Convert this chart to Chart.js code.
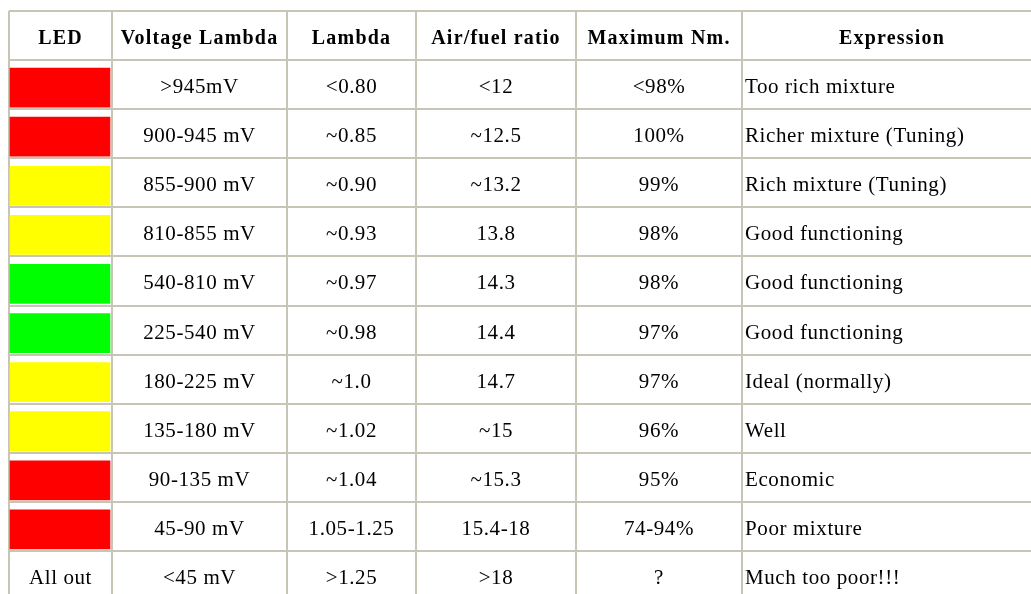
<!DOCTYPE html>
<html><head><meta charset="utf-8">
<script src="https://cdn.jsdelivr.net/npm/chart.js@4"></script>
<style>
html,body{margin:0;padding:0;background:#fff;overflow:hidden;width:1031px;height:594px}
#wrap{position:absolute;left:0;top:0;width:1045px;height:612px}
</style>
</head><body><div id="wrap"><canvas id="c" width="1045" height="612"></canvas></div>
<script>
// ---- data ----
const headers = ['LED', 'Voltage Lambda', 'Lambda', 'Air/fuel ratio', 'Maximum Nm.', 'Expression'];
const ledLabels = ['', '', '', '', '', '', '', '', '', '', 'All out'];
const ledColors = ['#ff0000', '#ff0000', '#ffff00', '#ffff00', '#00ff00', '#00ff00', '#ffff00', '#ffff00', '#ff0000', '#ff0000', null];
const voltage = ['>945mV', '900-945 mV', '855-900 mV', '810-855 mV', '540-810 mV', '225-540 mV', '180-225 mV', '135-180 mV', '90-135 mV', '45-90 mV', '<45 mV'];
const lambda = ['<0.80', '~0.85', '~0.90', '~0.93', '~0.97', '~0.98', '~1.0', '~1.02', '~1.04', '1.05-1.25', '>1.25'];
const airFuel = ['<12', '~12.5', '~13.2', '13.8', '14.3', '14.4', '14.7', '~15', '~15.3', '15.4-18', '>18'];
const maxNm = ['<98%', '100%', '99%', '98%', '98%', '97%', '97%', '96%', '95%', '74-94%', '?'];
const expression = ['Too rich mixture', 'Richer mixture (Tuning)', 'Rich mixture (Tuning)', 'Good functioning', 'Good functioning', 'Good functioning', 'Ideal (normally)', 'Well', 'Economic', 'Poor mixture', 'Much too poor!!!'];

// ---- layout (not data) ----
const colEdges = [0, 103, 278, 407, 567, 733, 1036];
const rowCount = voltage.length + 1;
const columns = [ledLabels, voltage, lambda, airFuel, maxNm, expression];
const gridColor = '#c9c5b5';
const bodyFont = '21px "Liberation Serif", "Times New Roman", serif';
const headFont = 'bold 20px "Liberation Serif", "Times New Roman", serif';

const ledCenter = (colEdges[0] + colEdges[1]) / 2 - 0.5;
const ledData = ledColors.map((c, i) => ({ x: ledCenter, y: c ? [i + 1 + 0.163, i + 2 - 0.04] : null }));

const tableText = {
  id: 'tableText',
  afterDatasetsDraw(chart) {
    const { ctx, scales: { x, y } } = chart;
    ctx.save();
    ctx.fillStyle = '#000';
    ctx.textBaseline = 'middle';
    // header
    ctx.font = headFont;
    ctx.letterSpacing = '1.2px';
    ctx.textAlign = 'center';
    headers.forEach((h, c) => {
      const cx = x.getPixelForValue((colEdges[c] + colEdges[c + 1]) / 2);
      const cy = y.getPixelForValue(0.5) + 3;
      if (c === headers.length - 1) {
        ctx.fillText(h, x.getPixelForValue(colEdges[c]) + 150, cy);
      } else ctx.fillText(h, cx, cy);
    });
    // body
    ctx.font = bodyFont;
    ctx.letterSpacing = '0.6px';
    columns.forEach((col, c) => {
      col.forEach((t, r) => {
        if (!t) return;
        const cy = y.getPixelForValue(r + 1.5) + 3;
        if (c === columns.length - 1) {
          ctx.textAlign = 'left';
          ctx.fillText(t, x.getPixelForValue(colEdges[c]) + 3, cy);
        } else {
          ctx.textAlign = 'center';
          ctx.fillText(t, x.getPixelForValue((colEdges[c] + colEdges[c + 1]) / 2), cy);
        }
      });
    });
    ctx.restore();
  }
};

new Chart(document.getElementById('c'), {
  type: 'bar',
  data: {
    datasets: [{
      data: ledData,
      backgroundColor: ledColors.map(c => c || 'rgba(0,0,0,0)'),
      borderWidth: 0,
      barThickness: 100
    }]
  },
  options: {
    responsive: false,
    animation: false,
    devicePixelRatio: 1,
    layout: { padding: { left: 9, top: 11, right: 0, bottom: 12 } },
    plugins: { legend: { display: false }, tooltip: { enabled: false } },
    scales: {
      x: {
        type: 'linear', min: colEdges[0], max: colEdges[colEdges.length - 1], offset: false,
        afterBuildTicks: s => { s.ticks = colEdges.map(v => ({ value: v })); },
        ticks: { display: false },
        grid: { color: gridColor, lineWidth: 2, drawTicks: false, offset: false },
        border: { display: false }
      },
      y: {
        type: 'linear', reverse: true, min: 0, max: rowCount,
        afterBuildTicks: s => { s.ticks = Array.from({ length: rowCount + 1 }, (_, i) => ({ value: i })); },
        ticks: { display: false },
        grid: { color: gridColor, lineWidth: 2, drawTicks: false },
        border: { display: false }
      }
    }
  },
  plugins: [tableText]
});
</script>
</body></html>
